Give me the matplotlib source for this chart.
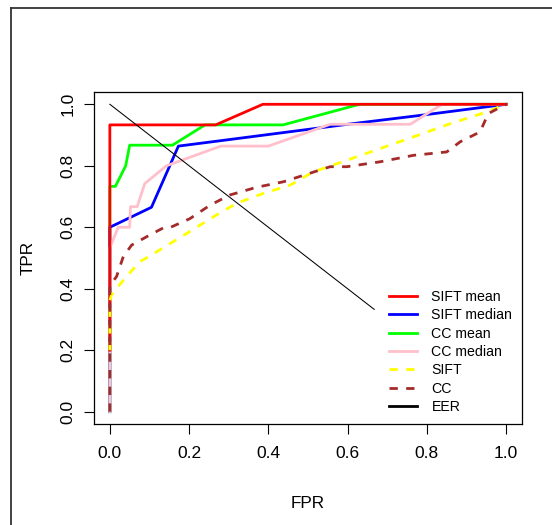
import matplotlib
matplotlib.use("Agg")
import matplotlib.pyplot as plt
from matplotlib.lines import Line2D

plt.rcParams['font.family'] = ['Liberation Sans', 'DejaVu Sans']

# ---- data ----
sift_mean_x = [0.0, 0.0, 0.267, 0.386, 1.0]
sift_mean_y = [0.2, 0.933, 0.933, 1.0, 1.0]

sift_median_x = [0.0, 0.0, 0.105, 0.173, 0.30, 0.60, 0.79, 1.0]
sift_median_y = [0.0, 0.60, 0.665, 0.864, 0.885, 0.935, 0.965, 1.0]

cc_mean_x = [0.0, 0.0, 0.014, 0.040, 0.050, 0.158, 0.240, 0.437, 0.630, 1.0]
cc_mean_y = [0.0, 0.733, 0.733, 0.800, 0.867, 0.867, 0.933, 0.933, 1.0, 1.0]

cc_median_x = [0.0, 0.0, 0.021, 0.050, 0.052, 0.069, 0.088, 0.143, 0.280,
               0.400, 0.556, 0.758, 0.838, 1.0]
cc_median_y = [0.0, 0.533, 0.600, 0.600, 0.667, 0.667, 0.742, 0.800, 0.864,
               0.864, 0.935, 0.935, 1.0, 1.0]

sift_x = [0.0, 0.0, 0.004, 0.042, 0.076, 0.118, 0.194, 0.269, 0.320, 0.387,
          0.455, 0.513, 0.598, 0.682, 0.766, 0.859, 0.951, 0.993, 1.0]
sift_y = [0.2, 0.36, 0.38, 0.44, 0.488, 0.52, 0.58, 0.64, 0.678, 0.71,
          0.737, 0.78, 0.818, 0.856, 0.894, 0.937, 0.975, 0.997, 1.0]

cc_x = [0.0, 0.0, 0.017, 0.034, 0.055, 0.101, 0.135, 0.150, 0.202, 0.253,
        0.303, 0.370, 0.438, 0.556, 0.598, 0.682, 0.766, 0.850, 0.884,
        0.934, 0.955, 1.0]
cc_y = [0.0, 0.41, 0.44, 0.505, 0.542, 0.575, 0.598, 0.598, 0.628, 0.672,
        0.705, 0.73, 0.748, 0.797, 0.797, 0.813, 0.834, 0.845, 0.878,
        0.91, 0.97, 1.0]

eer_x = [0.0, 0.667]
eer_y = [1.0, 0.333]

ticks = [0.0, 0.2, 0.4, 0.6, 0.8, 1.0]
tick_labels = ["0.0", "0.2", "0.4", "0.6", "0.8", "1.0"]
legend_labels = ["SIFT mean", "SIFT median", "CC mean", "CC median", "SIFT", "CC", "EER"]

# ---- figure ----
W, H = 552, 525
fig = plt.figure(figsize=(W / 100, H / 100), dpi=100)
fig.patch.set_facecolor('white')
ax = fig.add_axes([94 / W, 1 - 424 / H, 428 / W, 332 / H])

lw = 2.0
l_cm, = ax.plot(cc_mean_x, cc_mean_y, color='#00FF00', lw=lw)
l_smed, = ax.plot(sift_median_x, sift_median_y, color='#0000FF', lw=lw)
l_cmed, = ax.plot(cc_median_x, cc_median_y, color='pink', lw=lw)
l_sm, = ax.plot(sift_mean_x, sift_mean_y, color='#FF0000', lw=lw)
l_s, = ax.plot(sift_x, sift_y, color='#FFFF00', lw=lw, dashes=(3, 3))
l_c, = ax.plot(cc_x, cc_y, color='brown', lw=lw, dashes=(3, 3))
ax.plot(eer_x, eer_y, color='black', lw=0.75)
l_e = Line2D([], [], color='black', lw=lw)

ax.set_xlim(-0.04, 1.04)
ax.set_ylim(-0.04, 1.04)
ax.set_xticks(ticks)
ax.set_xticklabels(tick_labels)
ax.set_yticks(ticks)
ax.set_yticklabels(tick_labels, rotation=90, va='center')
ax.tick_params(axis='both', direction='out', length=7.2, width=0.8,
               labelsize=12.5, colors='black')
ax.tick_params(axis='x', pad=8.4)
ax.tick_params(axis='y', pad=6.3)
for s in ax.spines.values():
    s.set_linewidth(0.9)
    s.set_color('black')

fig.text(308 / W, 1 - 508 / H, "FPR", ha='center', va='baseline', fontsize=12.3)
fig.text(35.5 / W, 1 - 258 / H, "TPR", ha='right', va='center', rotation=90,
         fontsize=12.3)

ax.legend([l_sm, l_smed, l_cm, l_cmed, l_s, l_c, l_e], legend_labels,
          loc='upper left', bbox_to_anchor=(0.689, 0.404), frameon=False,
          fontsize=10.2, handlelength=2.0, handletextpad=1.0,
          labelspacing=0.31, borderpad=0, borderaxespad=0)

# outer frame lines
fig.add_artist(Line2D([11 / W, 11 / W], [0, 1 - 8 / H], transform=fig.transFigure,
                      color='#333333', lw=1.3))
fig.add_artist(Line2D([11 / W, 1], [1 - 8 / H, 1 - 8 / H], transform=fig.transFigure,
                      color='#333333', lw=1.3))

fig.savefig("out.png", dpi=100)
